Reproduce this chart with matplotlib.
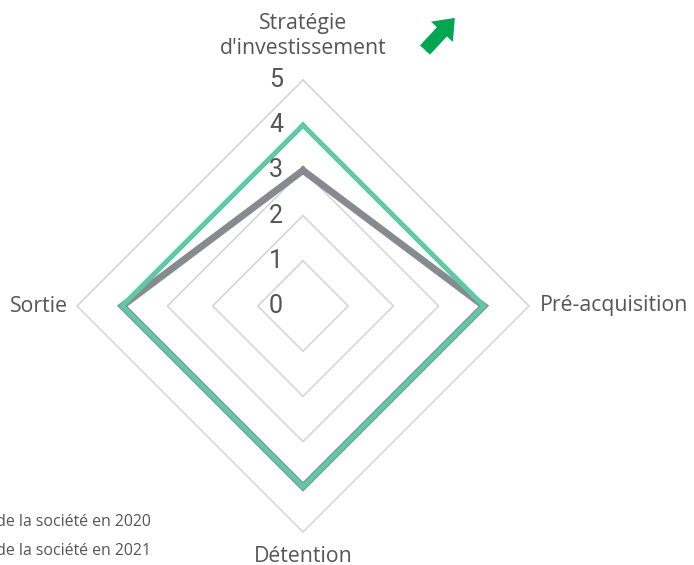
import numpy as np
import matplotlib
matplotlib.use("Agg")
import matplotlib.pyplot as plt
import matplotlib.patches as mpatches

categories = ["Stratégie\nd'investissement", "Pré-acquisition", "Détention", "Sortie"]
values_2020 = [3, 4, 4, 4]
values_2021 = [4, 4, 4, 4]
ring_levels = [1, 2, 3, 4, 5]
tick_labels = ["0", "1", "2", "3", "4", "5"]
legend_labels = ["Note de la société en 2020", "Note de la société en 2021"]

W, H = 694, 565
cx, cy, unit = 303, 306, 45.2

fig = plt.figure(figsize=(W / 100, H / 100), dpi=100)
ax = fig.add_axes([0, 0, 1, 1])
ax.set_xlim(-cx / unit, (W - cx) / unit)
ax.set_ylim(-(H - cy) / unit, cy / unit)
ax.set_aspect("equal")
ax.axis("off")

angles = np.arange(len(categories)) * 2 * np.pi / len(categories)

def to_xy(vals):
    v = np.asarray(vals, dtype=float)
    x = v * np.sin(angles)
    y = v * np.cos(angles)
    return np.append(x, x[0]), np.append(y, y[0])

for r in ring_levels:
    x, y = to_xy([r] * len(categories))
    ax.plot(x, y, color="#d6d6d6", lw=1.2, zorder=1)

x, y = to_xy(values_2020)
ax.plot(x, y, color="#878b91", lw=5.0, zorder=3, solid_joinstyle="miter")
x, y = to_xy(values_2021)
ax.plot(x, y, color="#5ec9a4", lw=3.6, zorder=4, solid_joinstyle="miter")

tick_font = ["Liberation Sans Narrow", "Roboto", "DejaVu Sans"]
for i, t in enumerate(tick_labels):
    ax.text(-27 / unit, i, t, ha="center", va="center", fontsize=18,
            color="#555555", family=tick_font, zorder=5)

lab_font = ["Open Sans", "DejaVu Sans"]
fs = 15.3
ax.text(0, (306 - 36) / unit, categories[0], ha="center", va="center",
        fontsize=fs, color="#555555", family=lab_font, linespacing=1.2)
ax.text((540 - cx) / unit, 0, categories[1], ha="left", va="center",
        fontsize=fs, color="#555555", family=lab_font)
ax.text(0, (306 - 557) / unit, categories[2], ha="center", va="center",
        fontsize=fs, color="#555555", family=lab_font)
ax.text((68 - cx) / unit, 0, categories[3], ha="right", va="center",
        fontsize=fs, color="#555555", family=lab_font)

for i, lab in enumerate(legend_labels):
    py = 522 + i * 29
    ax.text((151 - cx) / unit, (306 - py) / unit, lab, ha="right", va="center",
            fontsize=11.4, color="#555555", family=lab_font)

arrow = mpatches.FancyArrow((425 - cx) / unit, (306 - 50) / unit, 0.66, 0.71,
                            width=0.30, head_width=0.66, head_length=0.42,
                            length_includes_head=True, color="#00a651", lw=0)
ax.add_patch(arrow)

fig.savefig("out.png", dpi=100)
